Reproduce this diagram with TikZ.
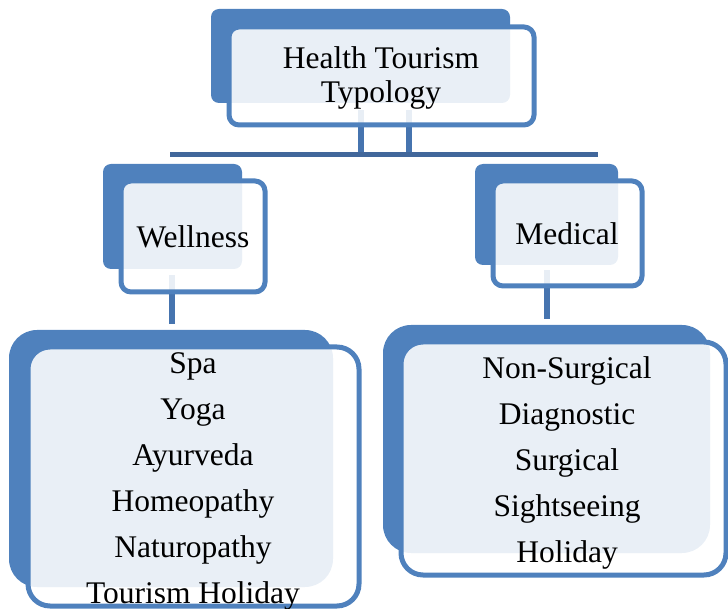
\documentclass[tikz,border=0pt]{standalone}
\usepackage{fontspec}
\setmainfont{Liberation Serif}
\definecolor{boxblue}{HTML}{4F81BD}
\definecolor{linkblue}{HTML}{4674AF}
\definecolor{barblue}{HTML}{41679B}
\pgfdeclarelayer{back}
\pgfdeclarelayer{mid}
\pgfsetlayers{back,mid,main}
\tikzset{
  backbox/.style={fill=boxblue, draw=none, rounded corners=8pt, inner sep=0pt},
  frontbox/.style={draw=boxblue, line width=5pt, fill=white, fill opacity=0.88, draw opacity=1, rounded corners=10pt, inner sep=0pt},
  bigback/.style={backbox, rounded corners=28pt},
  bigfront/.style={frontbox, rounded corners=22pt},
  label31/.style={font=\fontsize{31.5}{34}\selectfont, align=center, inner sep=0pt},
  list31/.style={font=\fontsize{31.5}{46}\selectfont, align=center, inner sep=0pt},
  conn/.style={draw=linkblue, line width=5.5pt},
  barline/.style={draw=barblue, line width=5pt},
}
\begin{document}
\begin{tikzpicture}[x=1pt, y=-1pt]
\useasboundingbox (0,0) rectangle (728,609);
% front boxes and texts
\node[frontbox, minimum width=305pt, minimum height=98pt] (topF) at (381.5,76) {};
\node[label31] (topT) at (381,78) {Health Tourism\\Typology};
\node[frontbox, minimum width=144pt, minimum height=111pt] (wellF) at (193,236.5) {};
\node[label31] (wellT) at (193,237) {Wellness};
\node[frontbox, minimum width=149pt, minimum height=105pt] (medF) at (567.5,233.5) {};
\node[label31] (medT) at (567,234) {Medical};
\node[bigfront, minimum width=331pt, minimum height=259pt] (wlistF) at (193.5,476.5) {};
\node[list31] (wlistT) at (193,481.5) {Spa\\Yoga\\Ayurveda\\Homeopathy\\Naturopathy\\Tourism Holiday};
\node[bigfront, minimum width=325pt, minimum height=233pt] (mlistF) at (563.5,458.5) {};
\node[list31] (mlistT) at (567,462.5) {Non-Surgical\\Diagnostic\\Surgical\\Sightseeing\\Holiday};
% back boxes
\begin{pgfonlayer}{back}
\node[backbox, minimum width=299pt, minimum height=94pt] (topB) at (360.5,56) {};
\node[backbox, minimum width=139pt, minimum height=105pt] (wellB) at (172.5,216.5) {};
\node[backbox, minimum width=143pt, minimum height=101pt] (medB) at (546.5,214.5) {};
\node[bigback, minimum width=324pt, minimum height=257pt] (wlistB) at (171,458.5) {};
\node[bigback, minimum width=327pt, minimum height=228pt] (mlistB) at (546.5,439) {};
\end{pgfonlayer}
% connectors
\begin{pgfonlayer}{mid}
\coordinate (barL) at (170,155);
\coordinate (barR) at (598,155);
\coordinate (t1) at (361,110);
\coordinate (t2) at (409,110);
\coordinate (b1) at (361,155);
\coordinate (b2) at (409,155);
\coordinate (w1) at (172,275);
\coordinate (w2) at (172,324);
\coordinate (m1) at (547,270);
\coordinate (m2) at (547,319);
\draw[conn] (t1) -- (b1);
\draw[conn] (t2) -- (b2);
\draw[barline] (barL) -- (barR);
\draw[conn] (w1) -- (w2);
\draw[conn] (m1) -- (m2);
\end{pgfonlayer}
\end{tikzpicture}
\end{document}
